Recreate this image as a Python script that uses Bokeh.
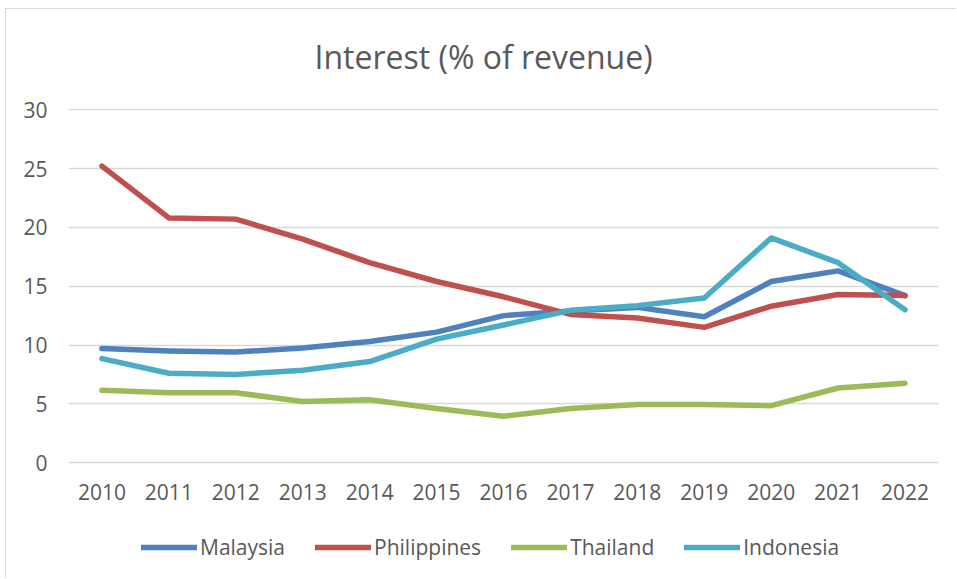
from bokeh.plotting import figure
from bokeh.models import Range1d, FixedTicker, Legend, LegendItem, Title
from bokeh.layouts import column
from bokeh.embed import file_html
from bokeh.resources import INLINE

years = list(range(2010, 2023))
malaysia = [9.7, 9.5, 9.4, 9.75, 10.3, 11.1, 12.5, 12.9, 13.2, 12.4, 15.4, 16.3, 14.2]
philippines = [25.2, 20.8, 20.7, 19.0, 17.0, 15.4, 14.1, 12.6, 12.3, 11.5, 13.3, 14.3, 14.2]
thailand = [6.15, 5.95, 5.95, 5.2, 5.35, 4.6, 3.95, 4.6, 4.95, 4.95, 4.85, 6.35, 6.75]
indonesia = [8.85, 7.6, 7.5, 7.85, 8.6, 10.5, 11.7, 12.95, 13.35, 14.0, 19.1, 17.0, 13.0]

series = [
    ("Malaysia", malaysia, "#4F81BD"),
    ("Philippines", philippines, "#C0504D"),
    ("Thailand", thailand, "#9BBB59"),
    ("Indonesia", indonesia, "#4BACC6"),
]

FONT = "Open Sans"
TXT = "#595959"

p = figure(width=950, height=507, output_backend="svg", toolbar_location=None,
           x_range=Range1d(2009.5, 2022.5), y_range=Range1d(-0.15, 30.1),
           min_border_left=62, min_border_right=18, min_border_top=99,
           min_border_bottom=45)
p.styles = {"margin-top": "-7px"}
p.outline_line_color = None
p.background_fill_color = "white"
p.border_fill_alpha = 0

t = Title(text="Interest (% of revenue)", align="left", offset=246,
          text_font=FONT, text_font_size="32px", text_font_style="normal",
          text_color=TXT, standoff=61)
p.add_layout(t, "above")

p.xaxis.ticker = FixedTicker(ticks=years)
p.yaxis.ticker = FixedTicker(ticks=[0, 5, 10, 15, 20, 25, 30])
for ax in (p.xaxis, p.yaxis):
    ax.axis_line_color = None
    ax.major_tick_line_color = None
    ax.minor_tick_line_color = None
    ax.major_label_text_font = FONT
    ax.major_label_text_font_size = "21px"
    ax.major_label_text_color = TXT
p.xaxis.major_label_standoff = 13
p.yaxis.major_label_standoff = 15

p.xgrid.grid_line_color = None
p.ygrid.grid_line_color = "#D9D9D9"
p.ygrid.grid_line_width = 1.5

# legend panel: same series, drawn outside its visible range so only the key shows
lg = figure(width=950, height=69, output_backend="svg", toolbar_location=None,
            x_range=Range1d(0, 1), y_range=Range1d(0, 1),
            x_axis_type=None, y_axis_type=None,
            min_border=0, min_border_left=0, min_border_right=0,
            min_border_top=0, min_border_bottom=0)
lg.outline_line_color = None
lg.background_fill_color = "white"
lg.border_fill_color = "white"

items = []
for name, vals, col in series:
    p.line(years, vals, line_color=col, line_width=5.5, line_cap="round",
           line_join="round")
    r = lg.line(years, vals, line_color=col, line_width=5.5, line_cap="round",
                line_join="round")
    items.append(LegendItem(label=name, renderers=[r]))

legend = Legend(items=items, orientation="horizontal", location=(73, 17),
                label_text_font=FONT, label_text_font_size="21px",
                label_text_color=TXT, glyph_width=56, glyph_height=20,
                label_standoff=3, spacing=30, border_line_color=None,
                background_fill_alpha=0, padding=0, margin=0)
lg.add_layout(legend, "center")

layout = column(p, lg, spacing=0)
layout.styles = {"margin-left": "5px", "margin-top": "8px",
                 "border-left": "1.5px solid #D9D9D9",
                 "border-top": "1.5px solid #D9D9D9"}

open("out.html", "w").write(file_html(layout, INLINE))
